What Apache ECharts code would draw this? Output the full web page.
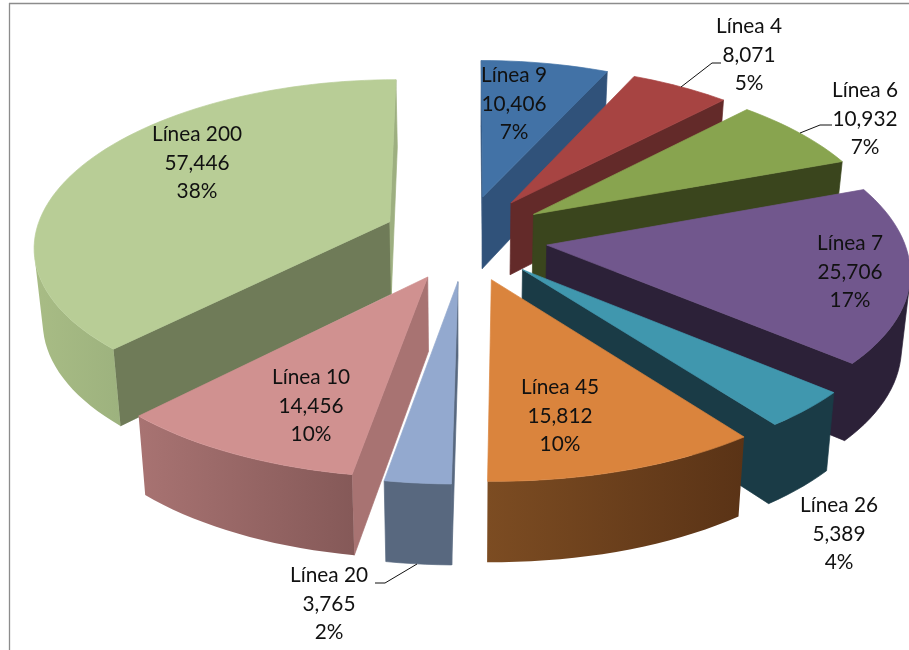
<!DOCTYPE html>
<html><head><meta charset="utf-8">
<style>html,body{margin:0;padding:0;background:#fff}#c{width:909px;height:650px}</style>
<script src="https://cdn.jsdelivr.net/npm/echarts@6/dist/echarts.min.js"></script>
</head><body><div id="c"></div>
<script>
// ---- data ----
const categories = ['Línea 9','Línea 4','Línea 6','Línea 7','Línea 26','Línea 45','Línea 20','Línea 10','Línea 200'];
const values     = [10406, 8071, 10932, 25706, 5389, 15812, 3765, 14456, 57446];

// ---- styles ----
const topColors  = ['#4272A6','#A74442','#88A44F','#71578D','#4097AE','#DA843D','#93A9CF','#D09190','#B8CD96'];
const edgeColors = ['#30527A','#632A29','#3A451D','#2C2138','#1A3B46','#5F3718','#58687F','#A87372','#6F7B58'];
const endEdgeColors = ['#30527A','#632A29','#3A451D','#2C2138','#1A3B46','#5F3718','#7F92B2','#A87372','#9DAF80'];
const arcRight   = ['#30527A','#632A29','#3A451D','#2C2138','#1A3B46','#5A3316','#58687F','#855958','#9DB27E'];
const arcLeft    = ['#30527A','#632A29','#3A451D','#2C2138','#1A3B46','#7C4C22','#58687F','#A87372','#A8BC85'];

// ---- label placement (annotation layout, px) ----
const labelAnchors = [[514,104],[749,55],[865,119],[850,272],[839,534],[560,416],[329,604],[311,406],[197,163]];
const leaderLines = { 1:[[721,63],[712,63],[681,87]], 2:[[832,125],[820,125],[800,133]], 6:[[375,583],[385,583],[417,564]] };

// ---- projection of the tilted pie ----
const view = {cx:465.5, cy:237.5, B:356, A:165, kx:.15, qx:.004, kox:.08, ky:.13, qy:.004, H:73, kh:.078, shrink:.02, ex:.231, ey:.26};
const total = values.reduce((a,b)=>a+b,0);
const toRad = d=>d*Math.PI/180;
const slices = []; { let acc=0; values.forEach(v=>{ const a0=acc/total*360; acc+=v; slices.push({a0,a1:acc/total*360}); }); }
function project(a,r,s){
  const mid=toRad((s.a0+s.a1)/2);
  const ox=view.ex*Math.sin(mid), X=r*Math.sin(toRad(a)), Y=r*Math.cos(toRad(a))+view.ey*Math.cos(mid);
  const x=view.cx+view.B*X/(1+view.kx*Y+view.qx*Y*Y)+view.B*ox*(1-view.kox*Y), y=view.cy-view.A*Y/(1+view.ky*Y+view.qy*Y*Y);
  const h=view.H/(1+view.kh*Y);
  return {t:[x,y], b:[view.cx+(x-view.cx)*(1-view.shrink), y+h]};
}
function area(p){let s=0;for(let i=0;i<p.length;i++){const q=p[(i+1)%p.length];s+=p[i][0]*q[1]-q[0]*p[i][1];}return s;}
const order = slices.map((s,i)=>[i,Math.cos(toRad((s.a0+s.a1)/2))]).sort((a,b)=>b[1]-a[1]).map(d=>d[0]);

function poly(points,fill,z2){const solid=typeof fill==='string';return {type:'polygon',z2,shape:{points},style:{fill,stroke:solid?fill:null,lineWidth:solid?.7:0},silent:true};}

function renderItem(params,api){
  const i=params.dataIndex, s=slices[i], rank=order.indexOf(i)*10, kids=[];
  const apex=project(0,0,s), steps=Math.max(2,Math.ceil((s.a1-s.a0)/2));
  const arc=[]; for(let k=0;k<=steps;k++) arc.push(project(s.a0+(s.a1-s.a0)*k/steps,1,s));
  const first=arc[0], last=arc[arc.length-1];
  const endWall=[apex.t,last.t,last.b,apex.b], startWall=[apex.b,first.b,first.t,apex.t];
  const vis=[]; for(let k=0;k<steps;k++){ if(area([arc[k].t,arc[k+1].t,arc[k+1].b,arc[k].b])<0){ if(!vis.includes(arc[k])) vis.push(arc[k]); vis.push(arc[k+1]); } }
  const sameShade=arcLeft[i]===arcRight[i]&&arcLeft[i]===endEdgeColors[i];
  if(area(startWall)>0) kids.push(poly(startWall,edgeColors[i],rank+1));
  if(sameShade&&vis.length>1&&vis[vis.length-1]===last&&area(endWall)>0){
    // outer wall and radial wall share one shade: draw them as one face
    kids.push(poly(vis.map(p=>p.t).concat([apex.t,apex.b]).concat(vis.slice().reverse().map(p=>p.b)),endEdgeColors[i],rank+2));
  } else {
    if(area(endWall)>0) kids.push(poly(endWall,endEdgeColors[i],rank+1));
    if(vis.length>1){
      const pts=vis.map(p=>p.t).concat(vis.slice().reverse().map(p=>p.b));
      const fill=arcLeft[i]===arcRight[i]?arcLeft[i]:new echarts.graphic.LinearGradient(0,0,1,0,[{offset:0,color:arcLeft[i]},{offset:1,color:arcRight[i]}]);
      kids.push(poly(pts,fill,rank+2));
    }
  }
  // top face
  kids.push(poly([apex.t].concat(arc.map(p=>p.t)),topColors[i],rank+3));
  // label
  const pct=Math.round(api.value(0)/total*100);
  kids.push({type:'text',z2:1000,silent:true,x:labelAnchors[i][0],y:labelAnchors[i][1],
    style:{text:[categories[i],api.value(0).toLocaleString('en-US'),pct+'%'].join('\n'),
      fill:'#111',font:'20.8px Lato',align:'center',verticalAlign:'middle',lineHeight:28.5}});
  if(leaderLines[i]) kids.push({type:'polyline',z2:999,silent:true,shape:{points:leaderLines[i]},style:{stroke:'#111',lineWidth:1,fill:null}});
  return {type:'group',children:kids};
}

const chart=echarts.init(document.getElementById('c'),null,{renderer:'canvas'});
chart.setOption({
  animation:false,backgroundColor:'#fff',
  graphic:[
    {type:'line',shape:{x1:9,y1:3.5,x2:909,y2:3.5},style:{stroke:'#8C8C8C',lineWidth:1.3}},
    {type:'line',shape:{x1:9.5,y1:3,x2:9.5,y2:650},style:{stroke:'#8C8C8C',lineWidth:1.3}}
  ],
  series:[{type:'custom',coordinateSystem:'none',renderItem,clip:false,
    data:values.map((v,i)=>({name:categories[i],value:[v]}))}]
});
</script></body></html>
